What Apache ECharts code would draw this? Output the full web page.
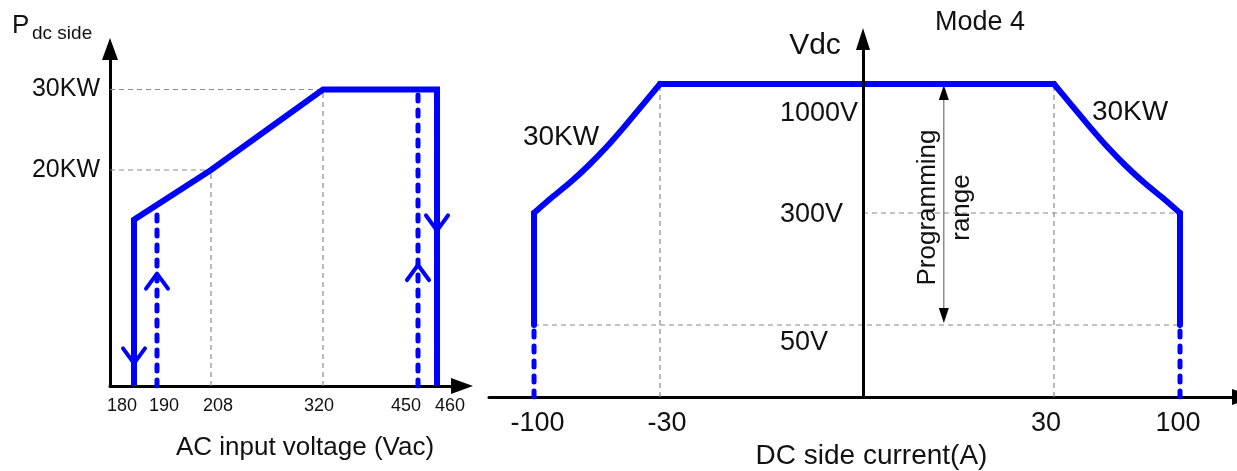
<!DOCTYPE html>
<html>
<head>
<meta charset="utf-8">
<script src="https://cdn.jsdelivr.net/npm/echarts@6/dist/echarts.min.js"></script>
<style>
html,body{margin:0;padding:0;background:#fff;}
#c{width:1237px;height:471px;}
</style>
</head>
<body>
<div id="c"></div>
<script>
// ================= DATA =================
// Left panel: DC-side power vs AC input voltage
const acTickValues = [180, 190, 208, 320, 450, 460];
const acTickLabels = ['180', '190', '208', '320', '450', '460'];
const powerTickValues = [20, 30];               // kW
const powerTickLabels = ['20KW', '30KW'];
const acCurveVoltage = [180, 180, 208, 320, 460, 460];
const acCurvePower   = [0, 15.4, 20, 30, 30, 0];
const acDashVoltage  = [190, 450];              // dashed return lines
const acDashTopPower = [16, 30];
const acGuideVoltage = [208, 320];              // grey guide corners
const acGuidePower   = [20, 30];
const acArrowVoltage = [180, 190, 450, 460];
const acArrowPower   = [2.1, 10.4, 11.2, 14.4];
const acArrowDir     = ['down', 'up', 'up', 'down'];

// Right panel: Vdc vs DC side current (Mode 4)
const dcTickValues = [-100, -30, 30, 100];
const dcTickLabels = ['-100', '-30', '30', '100'];
const vdcTickValues = [50, 300, 1000];
const vdcTickLabels = ['50V', '300V', '1000V'];
const dcLeftEdgeCurrent = [-100, -100];
const dcLeftEdgeVoltage = [50, 300];
const dcLeftCurveCurrent = [-100, -90, -80, -70, -60, -50, -40, -30];
const dcLeftCurveVoltage = [300, 385, 465, 555, 655, 766, 883, 1000];
const dcTopCurrent = [-30, 30];
const dcTopVoltage = [1000, 1000];
const dcRightCurveCurrent = [30, 40, 50, 60, 70, 80, 90, 100];
const dcRightCurveVoltage = [1000, 883, 766, 655, 555, 465, 385, 300];
const dcRightEdgeCurrent = [100, 100];
const dcRightEdgeVoltage = [300, 50];
const dcDashCurrent = [-100, 100];
const dcDashTopVoltage = [50, 50];
const dcGuideVCurrent = [-30, 30];     // vertical guides up to 1000 V
const dcGuideVTop = [1000, 1000];
const dcGuideHVoltage = [300, 50];     // horizontal guides
const dcGuideHFrom = [0, -100];
const dcGuideHTo = [100, 100];
const progRangeCurrent = 12.7;
const progRangeVoltage = [50, 1000];

// ================= LAYOUT (schematic, not-to-scale axes) =================
const LAYOUT = {
  ac: {
    grid: {left: 110, top: 49, width: 352, height: 337},
    xStops: [[180, 0.0682], [190, 0.1335], [208, 0.2869], [320, 0.6051], [450, 0.875], [460, 0.929]],
    xMin: 0, xMax: 1,
    yStops: [[0, 0], [20, 0.641], [30, 0.8798]],
    yMin: 0, yMax: 1,
    xLabelShift: [-12, 7, 7, -4, -12, 13]
  },
  dc: {
    grid: {left: 489, top: 39, width: 748, height: 358},
    xStops: [[-100, -0.4398], [-30, -0.2714], [0, 0], [30, 0.2553], [100, 0.4238]],
    xMin: -0.5, xMax: 0.5,
    yStops: [[0, 0], [50, 0.2011], [300, 0.514], [1000, 0.8743]],
    yMin: 0, yMax: 1,
    xLabelShift: [3.5, 7, -8, -2],
    yLabelDrop: [18, 2, 30],
    yLabelMargin: -291
  }
};

const BLUE = '#0000ff';
const INK = '#111111';
const GREY = '#8a8a8a';
const FONT = "'Liberation Sans', Arial, Helvetica, sans-serif";

function piecewise(stops) {
  return function (v) {
    let i = 0;
    while (i < stops.length - 2 && v > stops[i + 1][0]) i++;
    const a = stops[i], b = stops[i + 1];
    return a[1] + (v - a[0]) * (b[1] - a[1]) / (b[0] - a[0]);
  };
}
const ac = LAYOUT.ac, dc = LAYOUT.dc;
const acX = piecewise(ac.xStops), acY = piecewise(ac.yStops);
const dcX = piecewise(dc.xStops), dcY = piecewise(dc.yStops);

function fmt(ticks, labels, scale) {
  return function (v) {
    const i = ticks.findIndex(t => Math.abs(scale(t) - v) < 1e-6);
    return i < 0 ? '' : '{t' + i + '|' + labels[i] + '}';
  };
}
function richH(shifts, size) {
  const r = {};
  shifts.forEach((s, i) => {
    r['t' + i] = {fontSize: size, fontFamily: FONT, color: INK,
      padding: s < 0 ? [0, -2 * s, 0, 0] : [0, 0, 0, 2 * s]};
  });
  return r;
}
function richV(drops, size) {
  const r = {};
  drops.forEach((d, i) => {
    r['t' + i] = {fontSize: size, fontFamily: FONT, color: INK, padding: [2 * d, 0, 0, 0]};
  });
  return r;
}
function pts(xs, ys, fx, fy) { return xs.map((x, i) => [fx(x), fy(ys[i])]); }
function line(g, data, style, z, extra) {
  return Object.assign({type: 'line', xAxisIndex: g, yAxisIndex: g, data: data, symbol: 'none',
    showSymbol: false, silent: true, z: z, lineStyle: style, animation: false}, extra || {});
}
const axisLineStyle = {color: '#000', width: 3};
const guideStyle = {color: GREY, width: 1.2, type: [5, 4]};
const mainStyle = {color: BLUE, width: 6, join: 'miter', cap: 'butt'};
const curveStyle = {color: BLUE, width: 6, join: 'round', cap: 'round'};
const dashStyle = {color: BLUE, width: 5, type: [6, 9], cap: 'round'};

const series = [];
// ---- left panel ----
acGuideVoltage.forEach((v, i) => {
  series.push(line(0, [[0, acY(acGuidePower[i])], [acX(v), acY(acGuidePower[i])]], guideStyle, 1));
  series.push(line(0, [[acX(v), acY(0)], [acX(v), acY(acGuidePower[i])]], guideStyle, 1));
});
series.push(line(0, pts(acCurveVoltage, acCurvePower, acX, acY), mainStyle, 5));
acDashVoltage.forEach((v, i) => {
  series.push(line(0, [[acX(v), acY(0)], [acX(v), acY(acDashTopPower[i])]], dashStyle, 5));
});
series.push({
  type: 'custom', xAxisIndex: 0, yAxisIndex: 0, silent: true, z: 6, animation: false,
  data: acArrowVoltage.map((v, i) => [acX(v), acY(acArrowPower[i]), acArrowDir[i] === 'up' ? 1 : -1]),
  encode: {x: 0, y: 1},
  renderItem: function (params, api) {
    const p = api.coord([api.value(0), api.value(1)]);
    const s = api.value(2);
    return {type: 'polyline',
      shape: {points: [[p[0] - 11, p[1] + s * 15], [p[0], p[1]], [p[0] + 11, p[1] + s * 15]]},
      style: {stroke: BLUE, lineWidth: 4, fill: 'none', lineCap: 'round', lineJoin: 'round'}};
  }
});
// ---- right panel ----
dcGuideVCurrent.forEach((c, i) => {
  series.push(line(1, [[dcX(c), dcY(0)], [dcX(c), dcY(dcGuideVTop[i])]], guideStyle, 1));
});
dcGuideHVoltage.forEach((v, i) => {
  series.push(line(1, [[dcX(dcGuideHFrom[i]), dcY(v)], [dcX(dcGuideHTo[i]), dcY(v)]], guideStyle, 1));
});
series.push(line(1, pts(dcLeftEdgeCurrent, dcLeftEdgeVoltage, dcX, dcY), curveStyle, 5));
series.push(line(1, pts(dcLeftCurveCurrent, dcLeftCurveVoltage, dcX, dcY), curveStyle, 5, {smooth: 0.25}));
series.push(line(1, pts(dcTopCurrent, dcTopVoltage, dcX, dcY), curveStyle, 5));
series.push(line(1, pts(dcRightCurveCurrent, dcRightCurveVoltage, dcX, dcY), curveStyle, 5, {smooth: 0.25}));
series.push(line(1, pts(dcRightEdgeCurrent, dcRightEdgeVoltage, dcX, dcY), curveStyle, 5));
dcDashCurrent.forEach((c, i) => {
  series.push(line(1, [[dcX(c), dcY(0)], [dcX(c), dcY(dcDashTopVoltage[i])]], dashStyle, 5));
});
series.push({
  type: 'custom', xAxisIndex: 1, yAxisIndex: 1, silent: true, z: 4, animation: false,
  data: [[dcX(progRangeCurrent), dcY(progRangeVoltage[1]), dcY(progRangeVoltage[0])]],
  encode: {x: 0, y: 1},
  renderItem: function (params, api) {
    const top = api.coord([api.value(0), api.value(1)]);
    const bot = api.coord([api.value(0), api.value(2)]);
    const x = top[0], hw = 5, hh = 15;
    return {type: 'group', children: [
      {type: 'line', shape: {x1: x, y1: top[1] + hh - 2, x2: x, y2: bot[1] - hh + 2},
        style: {stroke: '#555', lineWidth: 1}},
      {type: 'polygon', shape: {points: [[x, top[1] + 1], [x - hw, top[1] + hh + 1], [x + hw, top[1] + hh + 1]]},
        style: {fill: '#000'}},
      {type: 'polygon', shape: {points: [[x, bot[1] - 2], [x - hw, bot[1] - hh - 2], [x + hw, bot[1] - hh - 2]]},
        style: {fill: '#000'}},
      {type: 'text', x: x + 1, y: (top[1] + bot[1]) / 2 + 3, rotation: Math.PI / 2,
        style: {text: 'Programming\nrange', fontSize: 26, fontFamily: FONT, fill: INK,
          align: 'center', verticalAlign: 'middle', lineHeight: 34}}
    ]};
  }
});

function txt(x, y, text, size, align) {
  return {type: 'text', x: x, y: y, silent: true,
    style: {text: text, fontSize: size, fontFamily: FONT, fill: INK,
      align: align || 'center', textAlign: align || 'center',
      verticalAlign: 'middle', textVerticalAlign: 'middle'}};
}

const option = {
  animation: false,
  backgroundColor: '#ffffff',
  textStyle: {fontFamily: FONT, color: INK},
  grid: [
    Object.assign({containLabel: false, outerBoundsMode: 'none'}, ac.grid),
    Object.assign({containLabel: false, outerBoundsMode: 'none'}, dc.grid)
  ],
  xAxis: [
    {
      type: 'value', gridIndex: 0, min: ac.xMin, max: ac.xMax,
      axisLine: {show: true, onZero: true, symbol: ['none', 'triangle'], symbolSize: [16, 22], lineStyle: axisLineStyle},
      axisTick: {show: false}, splitLine: {show: false},
      axisLabel: {customValues: acTickValues.map(acX), formatter: fmt(acTickValues, acTickLabels, acX),
        rich: richH(ac.xLabelShift, 18), margin: 11, fontSize: 18, color: INK, fontFamily: FONT},
      name: 'AC input voltage (Vac)', nameLocation: 'middle', nameGap: 49,
      nameTextStyle: {fontSize: 26, color: INK, fontFamily: FONT, padding: [0, 0, 0, 38]}
    },
    {
      type: 'value', gridIndex: 1, min: dc.xMin, max: dc.xMax,
      axisLine: {show: true, onZero: true, symbol: ['none', 'triangle'], symbolSize: [16, 22],
        symbolOffset: [0, 6], lineStyle: axisLineStyle},
      axisTick: {show: false}, splitLine: {show: false},
      axisLabel: {customValues: dcTickValues.map(dcX), formatter: fmt(dcTickValues, dcTickLabels, dcX),
        rich: richH(dc.xLabelShift, 27), margin: 13, fontSize: 27, color: INK, fontFamily: FONT},
      name: 'DC side current(A)', nameLocation: 'middle', nameGap: 41,
      nameTextStyle: {fontSize: 28, color: INK, fontFamily: FONT, padding: [0, 0, 0, 17]}
    }
  ],
  yAxis: [
    {
      type: 'value', gridIndex: 0, min: ac.yMin, max: ac.yMax,
      axisLine: {show: true, onZero: true, symbol: ['none', 'triangle'], symbolSize: [16, 22], lineStyle: axisLineStyle},
      axisTick: {show: false}, splitLine: {show: false},
      axisLabel: {customValues: powerTickValues.map(acY), formatter: fmt(powerTickValues, powerTickLabels, acY),
        rich: richV([0, 0], 25), margin: 10, fontSize: 25, color: INK, fontFamily: FONT}
    },
    {
      type: 'value', gridIndex: 1, min: dc.yMin, max: dc.yMax, z: 8,
      axisLine: {show: true, onZero: true, symbol: ['none', 'triangle'], symbolSize: [14, 22], lineStyle: axisLineStyle},
      axisTick: {show: false}, splitLine: {show: false},
      axisLabel: {customValues: vdcTickValues.map(dcY), formatter: fmt(vdcTickValues, vdcTickLabels, dcY),
        rich: richV(dc.yLabelDrop, 27), margin: dc.yLabelMargin, align: 'left', fontSize: 27, color: INK, fontFamily: FONT}
    }
  ],
  series: series,
  graphic: [
    txt(12, 26, 'P', 26, 'left'),
    txt(32, 34, 'dc side', 19, 'left'),
    txt(815, 46, 'Vdc', 30),
    txt(980, 23, 'Mode 4', 27),
    txt(561, 137, '30KW', 28),
    txt(1130, 112, '30KW', 28)
  ]
};

const chart = echarts.init(document.getElementById('c'), null, {renderer: 'canvas'});
chart.setOption(option);
</script>
</body>
</html>
